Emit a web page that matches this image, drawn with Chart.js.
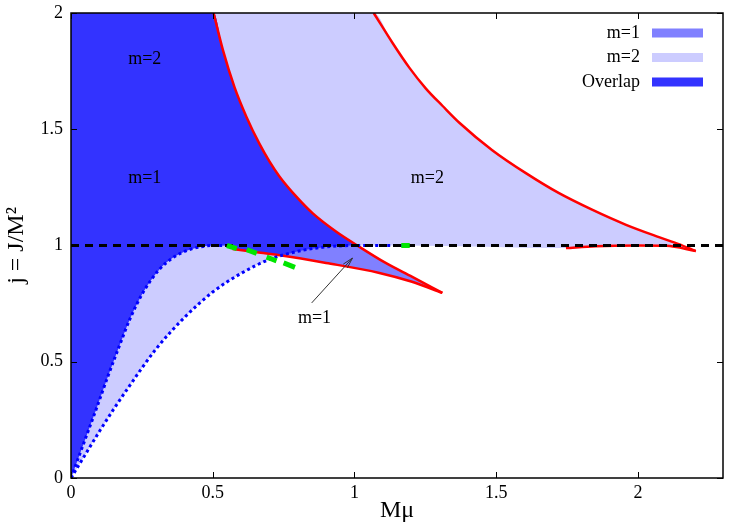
<!DOCTYPE html>
<html>
<head>
<meta charset="utf-8">
<script src="https://cdn.jsdelivr.net/npm/chart.js@4.4.1/dist/chart.umd.min.js"></script>
<style>
  html, body { margin: 0; padding: 0; background: #fff; }
  #wrap { width: 750px; height: 525px; }
</style>
</head>
<body>
<div id="wrap"><canvas id="myChart"></canvas></div>
<script>
// curves, as [Mmu, j] pairs
const m1Lower = [[0,0],[0.03,0.1],[0.06,0.2],[0.09,0.3],[0.128,0.43],[0.168,0.56],[0.21,0.69],[0.255,0.8],[0.31,0.895],[0.36,0.948],[0.41,0.979],[0.46,0.995],[0.5,1.0],[0.55,1.0]];
const m2Lower = [[0,0],[0.05,0.1],[0.1,0.2],[0.15,0.295],[0.2,0.385],[0.3,0.555],[0.4,0.69],[0.5,0.8],[0.6,0.88],[0.7,0.94],[0.8,0.975],[0.9,0.994],[1.0,1.0],[1.01,1.0],[1.18,1.0]];
const m1Upper = [[0.503,2],[0.536,1.84],[0.577,1.68],[0.619,1.553],[0.665,1.437],[0.7,1.362],[0.736,1.296],[0.795,1.21],[0.853,1.138],[0.936,1.059],[1.01,1.0],[1.11,0.925],[1.204,0.865],[1.31,0.796]];
const m1Bottom = [[0.57,0.985],[0.65,0.972],[0.736,0.958],[0.9,0.925],[1.088,0.882],[1.2,0.845],[1.31,0.796]];
const m2Upper = [[1.068,2],[1.135,1.87],[1.194,1.764],[1.252,1.675],[1.311,1.6],[1.37,1.528],[1.486,1.41],[1.606,1.31],[1.72,1.226],[1.838,1.154],[1.958,1.089],[2.074,1.036],[2.144,1.006],[2.204,0.976]];
const m2Bottom = [[1.746,0.989],[1.85,0.997],[2.0,1.0],[2.1,0.999],[2.204,0.976]];
// lower edge of the overlap: m=1 red line, then the m=2 dotted curve once it is higher
const overlapFloor = [[0.57,0.985],[0.65,0.972],[0.74,0.957],[0.8,0.975],[0.9,0.994],[1.0,1.0],[1.01,1.0]];
const greenBits = [
  [[0.55,1.0],[0.585,0.987]],
  [[0.62,0.982],[0.655,0.966]],
  [[0.69,0.95],[0.725,0.934]],
  [[0.75,0.925],[0.79,0.906]],
  [[1.165,1.0],[1.195,1.0]]
];
const extremal = [[0,1],[2.3,1]];

const xTicks = [0, 0.5, 1, 1.5, 2];
const yTicks = [0, 0.5, 1, 1.5, 2];
const legendLabels = ['m=1', 'm=2', 'Overlap'];
const legendColors = ['#8080ff', '#ccccff', '#3333ff'];

const SERIF = '"Times New Roman", "Liberation Serif", "DejaVu Serif", serif';
Chart.defaults.font.family = SERIF;
Chart.defaults.color = '#000';

const pts = arr => arr.map(p => ({x: p[0], y: p[1]}));

// each shaded region = band between a top edge and a bottom edge
const regions = [
  {top: [[0,2], ...m2Upper], bottom: [...m2Lower, ...m2Bottom], color: '#ccccff'},
  {top: [[0,2], ...m1Upper], bottom: [...m1Lower, ...m1Bottom], color: '#8080ff'},
  {top: [[0,2], ...m1Upper.filter(p => p[0] <= 1.01)], bottom: [...m1Lower, ...overlapFloor], color: '#3333ff'}
];

function curve(data, color, width, dash, order) {
  return {data: pts(data), borderColor: color, borderWidth: width, borderDash: dash,
          pointRadius: 0, fill: false, order: order, borderCapStyle: 'butt',
          cubicInterpolationMode: 'monotone'};
}

const datasets = [];
regions.forEach((r, i) => {
  const lowIdx = datasets.length + 1;
  datasets.push({data: pts(r.top), borderWidth: 0, borderColor: 'transparent', pointRadius: 0,
                 backgroundColor: r.color, fill: lowIdx, order: 30 - i, cubicInterpolationMode: 'monotone'});
  datasets.push({data: pts(r.bottom), borderWidth: 0, borderColor: 'transparent', pointRadius: 0,
                 fill: false, order: 40, cubicInterpolationMode: 'monotone'});
});
datasets.push(
  curve(m1Upper, '#ff0000', 2.5, [], 9),
  curve(m1Bottom, '#ff0000', 2.5, [], 9),
  curve(m2Upper, '#ff0000', 2.5, [], 9),
  curve(m2Bottom, '#ff0000', 2.5, [], 9),
  curve(m1Lower, '#0000ff', 3, [3, 3], 8),
  curve(m2Lower, '#0000ff', 3, [3, 3], 8),
  curve(extremal, '#000000', 3, [8, 6], 6),
  ...greenBits.map(b => curve(b, '#00e600', 5, [], 4))
);

// text notes and arrow, in data coordinates
const notes = [
  {text: 'm=2', x: 0.26, y: 1.80},
  {text: 'm=1', x: 0.26, y: 1.29},
  {text: 'm=2', x: 1.257, y: 1.29},
  {text: 'm=1', x: 0.859, y: 0.688}
];
const arrow = {from: [0.849, 0.753], to: [0.993, 0.946]};

const decorations = {
  id: 'decorations',
  afterDatasetsDraw(chart) {
    const {ctx, chartArea: a, scales: {x, y}} = chart;
    ctx.save();
    ctx.fillStyle = '#000';
    ctx.font = '18px ' + SERIF;
    ctx.textAlign = 'center';
    ctx.textBaseline = 'middle';
    notes.forEach(n => ctx.fillText(n.text, x.getPixelForValue(n.x), y.getPixelForValue(n.y)));

    // arrow
    const x0 = x.getPixelForValue(arrow.from[0]), y0 = y.getPixelForValue(arrow.from[1]);
    const x1 = x.getPixelForValue(arrow.to[0]), y1 = y.getPixelForValue(arrow.to[1]);
    const ang = Math.atan2(y1 - y0, x1 - x0);
    ctx.strokeStyle = '#333';
    ctx.lineWidth = 1;
    ctx.beginPath();
    ctx.moveTo(x0, y0); ctx.lineTo(x1, y1);
    ctx.moveTo(x1 - 11 * Math.cos(ang - 0.25), y1 - 11 * Math.sin(ang - 0.25));
    ctx.lineTo(x1, y1);
    ctx.lineTo(x1 - 11 * Math.cos(ang + 0.25), y1 - 11 * Math.sin(ang + 0.25));
    ctx.stroke();

    // frame with inward ticks on all sides
    ctx.strokeStyle = '#000';
    ctx.lineWidth = 1.5;
    ctx.strokeRect(a.left, a.top, a.right - a.left, a.bottom - a.top);
    ctx.lineWidth = 1;
    ctx.beginPath();
    xTicks.forEach(v => {
      const px = Math.round(x.getPixelForValue(v)) + 0.5;
      ctx.moveTo(px, a.bottom); ctx.lineTo(px, a.bottom - 6);
      ctx.moveTo(px, a.top); ctx.lineTo(px, a.top + 6);
    });
    yTicks.forEach(v => {
      const py = Math.round(y.getPixelForValue(v)) + 0.5;
      ctx.moveTo(a.left, py); ctx.lineTo(a.left + 6, py);
      ctx.moveTo(a.right, py); ctx.lineTo(a.right - 6, py);
    });
    ctx.stroke();

    // key, top right inside the plot
    ctx.font = '18px ' + SERIF;
    ctx.textAlign = 'right';
    legendLabels.forEach((lab, i) => {
      const cy = a.top + 20 + i * 24.5;
      ctx.fillStyle = '#000';
      ctx.fillText(lab, a.right - 83, cy);
      ctx.fillStyle = legendColors[i];
      ctx.fillRect(a.right - 71, cy - 4.5, 51, 9);
    });
    ctx.restore();
  }
};

function noPad(s) {
  s.paddingTop = 0; s.paddingBottom = 0; s.paddingLeft = 0; s.paddingRight = 0;
}

new Chart(document.getElementById('myChart'), {
  type: 'line',
  data: {datasets: datasets},
  options: {
    responsive: true,
    maintainAspectRatio: false,
    animation: false,
    layout: {padding: {top: 13, right: 27, left: 0, bottom: 0}},
    plugins: {legend: {display: false}, tooltip: {enabled: false}},
    scales: {
      x: {
        type: 'linear', min: 0, max: 2.3,
        grid: {display: false, drawTicks: false},
        border: {display: false},
        afterBuildTicks: s => { s.ticks = xTicks.map(v => ({value: v})); },
        ticks: {font: {size: 18}, padding: 4, maxRotation: 0, autoSkip: false, callback: v => String(v)},
        title: {display: true, text: 'M\u03bc', font: {size: 24}, padding: {top: 0, bottom: 0}},
        afterFit: s => { s.height = 47; noPad(s); }
      },
      y: {
        type: 'linear', min: 0, max: 2,
        grid: {display: false, drawTicks: false},
        border: {display: false},
        afterBuildTicks: s => { s.ticks = yTicks.map(v => ({value: v})); },
        ticks: {font: {size: 18}, padding: 8, autoSkip: false, callback: v => String(v)},
        title: {display: true, text: 'j = J/M\u00b2', font: {size: 24}, padding: {top: 2, bottom: 0}},
        afterFit: s => { s.width = 71; noPad(s); }
      }
    }
  },
  plugins: [decorations]
});
</script>
</body>
</html>
